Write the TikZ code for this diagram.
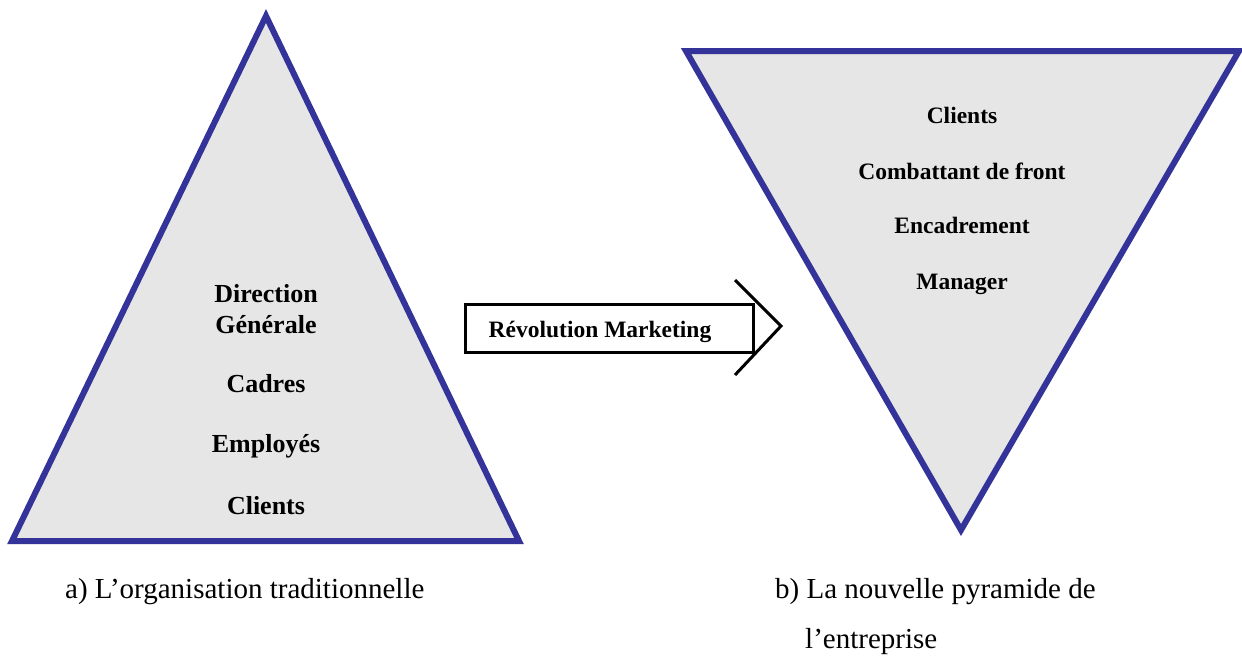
\documentclass[tikz,border=0pt]{standalone}
\usepackage{fontspec}
\setmainfont{Liberation Serif}
\definecolor{pyrblue}{HTML}{333399}
\definecolor{pyrfill}{HTML}{E6E6E6}
\tikzset{
  pyramid/.style={draw=pyrblue, fill=pyrfill, line width=6pt, line join=miter},
  lbl/.style={font=\fontsize{26}{30}\selectfont\bfseries, anchor=base, inner sep=0pt},
  rlbl/.style={font=\fontsize{23.5}{28}\selectfont\bfseries, anchor=base, inner sep=0pt},
  captxt/.style={font=\fontsize{29}{34}\selectfont, anchor=base west, inner sep=0pt},
  arrowbox/.style={draw=black, line width=3pt, minimum width=288pt, minimum height=48pt, inner sep=0pt},
  chevron/.style={draw=black, line width=3pt}
}
\begin{document}
\begin{tikzpicture}[x=1pt,y=-1pt]
\useasboundingbox (0,0) rectangle (1242,659);
% left pyramid
\coordinate (LA) at (266,16);
\coordinate (LB) at (12,541);
\coordinate (LC) at (519,541);
\draw[pyramid] (LA) -- (LC) -- (LB) -- cycle;
\node[lbl] (l1) at (266,302) {Direction};
\node[lbl] (l2) at (266,333) {Générale};
\node[lbl] (l3) at (266,392) {Cadres};
\node[lbl] (l4) at (266,452) {Employés};
\node[lbl] (l5) at (266,514) {Clients};
% right pyramid
\coordinate (RA) at (686,51);
\coordinate (RB) at (1239,51);
\coordinate (RC) at (961,530);
\draw[pyramid] (RA) -- (RB) -- (RC) -- cycle;
\node[rlbl] (r1) at (962,123) {Clients};
\node[rlbl] (r2) at (962,179) {Combattant de front};
\node[rlbl] (r3) at (962,233) {Encadrement};
\node[rlbl] (r4) at (962,289) {Manager};
% arrow
\node[arrowbox] (box) at (609,328) {};
\node[rlbl] (rev) at (600,337) {Révolution Marketing};
\coordinate (ch1) at (735,280);
\coordinate (ch2) at (781,326);
\coordinate (ch3) at (735,375);
\draw[chevron] (ch1) -- (ch2) -- (ch3);
% captions
\node[captxt] (ca) at (65,598) {a) L’organisation traditionnelle};
\node[captxt] (cb1) at (775,598) {b) La nouvelle pyramide de};
\node[captxt] (cb2) at (805,648) {l’entreprise};
\end{tikzpicture}
\end{document}
